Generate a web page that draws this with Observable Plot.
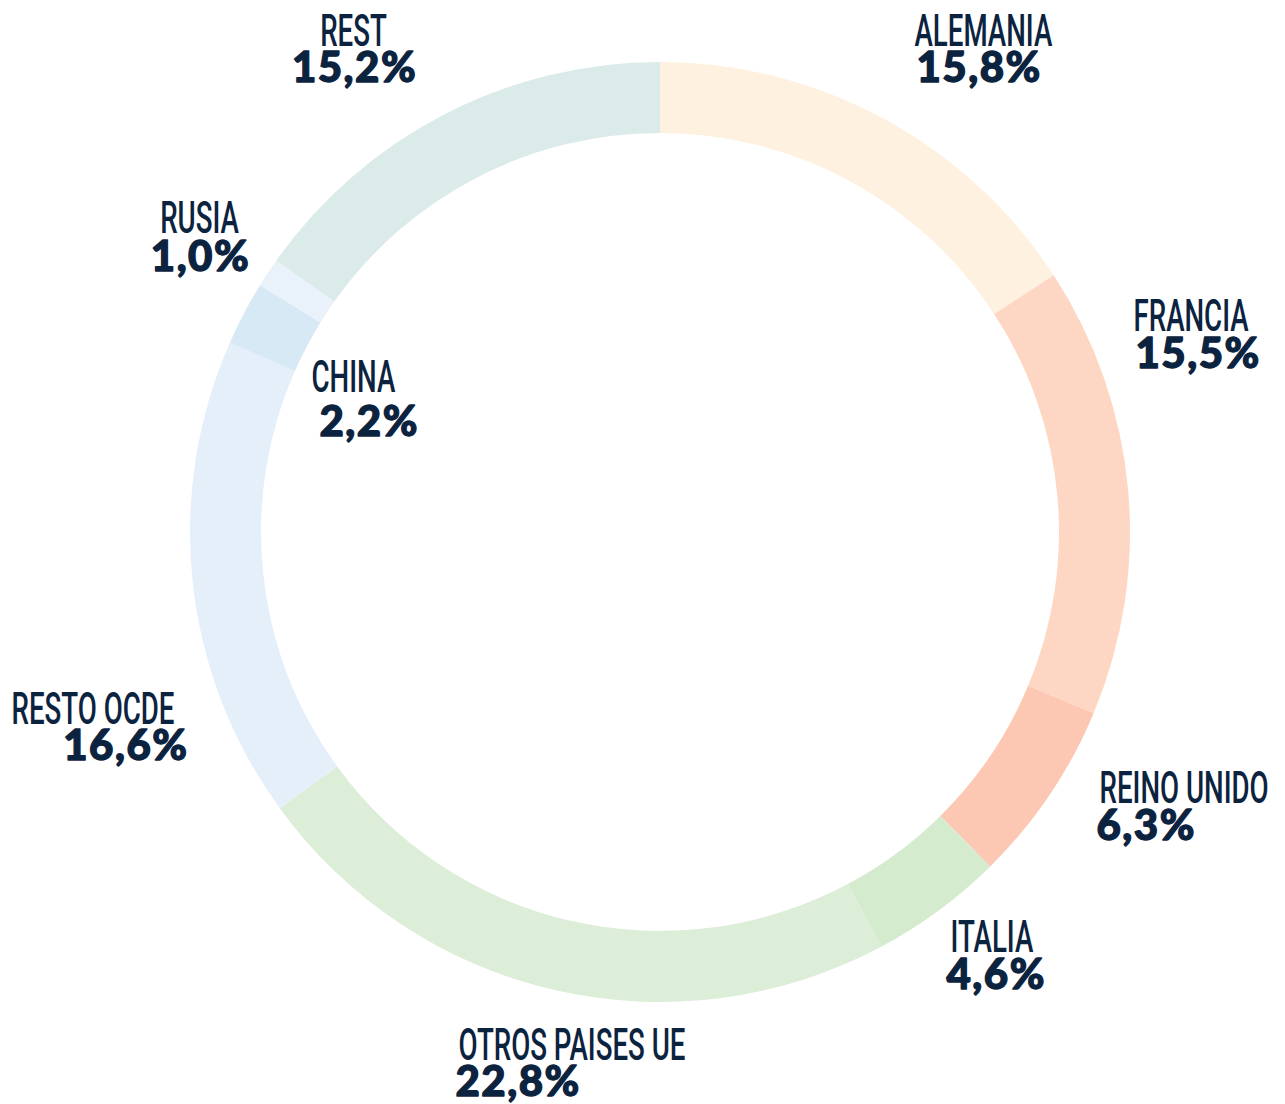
<!DOCTYPE html>
<html>
<head>
<meta charset="utf-8">
<script src="https://cdn.jsdelivr.net/npm/d3@7"></script>
<script src="https://cdn.jsdelivr.net/npm/@observablehq/plot@0.6"></script>
<style>
  html, body { margin: 0; padding: 0; background: #fff; }
  #chart svg { display: block; }
</style>
</head>
<body>
<div id="chart"></div>
<script>
// ---- data ----
const categories = ["ALEMANIA", "FRANCIA", "REINO UNIDO", "ITALIA", "OTROS PAISES UE", "RESTO OCDE", "CHINA", "RUSIA", "REST"];
const shares = [15.8, 15.5, 6.3, 4.6, 22.8, 16.6, 2.2, 1.0, 15.2];
const sliceColors = ["#fff1df", "#fdd7c3", "#fcc7b3", "#d5ebcd", "#dcedd8", "#e4eff9", "#d8e9f6", "#e9f1fa", "#dbebe9"];

// ---- layout (label placement, pixels) ----
const labelLayout = [
  {name: "ALEMANIA",        anchor: "start",  nx: 914,  ny: 31,   px: 916,  py: 68},
  {name: "FRANCIA",         anchor: "start",  nx: 1133, ny: 316,  px: 1135, py: 354},
  {name: "REINO UNIDO",     anchor: "start",  nx: 1099, ny: 788,  px: 1096, py: 826},
  {name: "ITALIA",          anchor: "start",  nx: 950,  ny: 937,  px: 946,  py: 975},
  {name: "OTROS PAISES UE", anchor: "start",  nx: 458,  ny: 1045, px: 455,  py: 1082},
  {name: "RESTO OCDE",      anchor: "end",    nx: 174,  ny: 709,  px: 188,  py: 746},
  {name: "CHINA",           anchor: "start",  nx: 311,  ny: 377,  px: 319,  py: 422},
  {name: "RUSIA",           anchor: "middle", nx: 199,  ny: 218,  px: 200,  py: 257},
  {name: "REST",            anchor: "middle", nx: 353,  ny: 31,   px: 354,  py: 68}
];

const W = 1285, H = 1104;
const center = {x: 660, y: 532};
const rOuter = 470, rInner = 399;
const ink = "#0c2340";
const nameScale = 0.615;

const fmt = v => v.toFixed(1).replace(".", ",") + "%";

const slices = categories.map((c, i) => ({category: c, value: shares[i], color: sliceColors[i]}));
const labels = labelLayout.map(l => {
  const i = categories.indexOf(l.name);
  return {...l, pct: fmt(shares[i])};
});

function donutMark(index, scales, values, dimensions, context) {
  const g = d3.select(context.document.createElementNS(d3.namespaces.svg, "g"))
    .attr("transform", `translate(${scales.x(center.x)},${scales.y(center.y)})`);
  const arcs = d3.pie().sort(null).value(d => d.value)(slices);
  const arc = d3.arc().innerRadius(rInner).outerRadius(rOuter);
  g.selectAll("path").data(arcs).join("path")
    .attr("d", arc)
    .attr("fill", d => scales.color ? scales.color(d.data.category) : d.data.color);
  return g.node();
}

const nameFont = "Roboto, 'Open Sans', sans-serif";
const pctFont = "Lato, 'DejaVu Sans', sans-serif";

const textMarks = [];
for (const anchor of ["start", "middle", "end"]) {
  const sub = labels.filter(d => d.anchor === anchor);
  textMarks.push(Plot.text(sub, {
    x: "nx", y: "ny", text: "name", textAnchor: anchor, lineAnchor: "middle",
    fontFamily: nameFont, fontSize: 45, fontWeight: 500, fill: ink
  }));
  textMarks.push(Plot.text(sub, {
    x: "px", y: "py", text: "pct", textAnchor: anchor, lineAnchor: "middle",
    fontFamily: pctFont, fontSize: 42, fontWeight: 900, fill: ink,
    stroke: ink, strokeWidth: 1.3
  }));
}

const chart = Plot.plot({
  width: W,
  height: H,
  margin: 0,
  x: {type: "linear", domain: [0, W], range: [0, W], axis: null},
  y: {type: "linear", domain: [0, H], range: [0, H], axis: null},
  color: {domain: categories, range: sliceColors},
  style: {background: "#fff"},
  marks: [
    donutMark,
    ...textMarks
  ]
});

// condense the category names (narrow display face)
d3.select(chart).selectAll("g").filter(function() {
  const f = this.getAttribute("font-family");
  return f && f.startsWith("Roboto");
}).selectAll("text").each(function() {
  const t = this.getAttribute("transform");
  if (t) {
    this.setAttribute("transform", t + ` scale(${nameScale},1)`);
  } else {
    const x = this.getAttribute("x") || 0, y = this.getAttribute("y") || 0;
    this.removeAttribute("x"); this.removeAttribute("y");
    this.setAttribute("transform", `translate(${x},${y}) scale(${nameScale},1)`);
  }
});

// widen the tracking of the percentage figures
d3.select(chart).selectAll("g").filter(function() {
  const f = this.getAttribute("font-family");
  return f && f.startsWith("Lato");
}).attr("letter-spacing", "1.5px");

document.getElementById("chart").appendChild(chart);
</script>
</body>
</html>
